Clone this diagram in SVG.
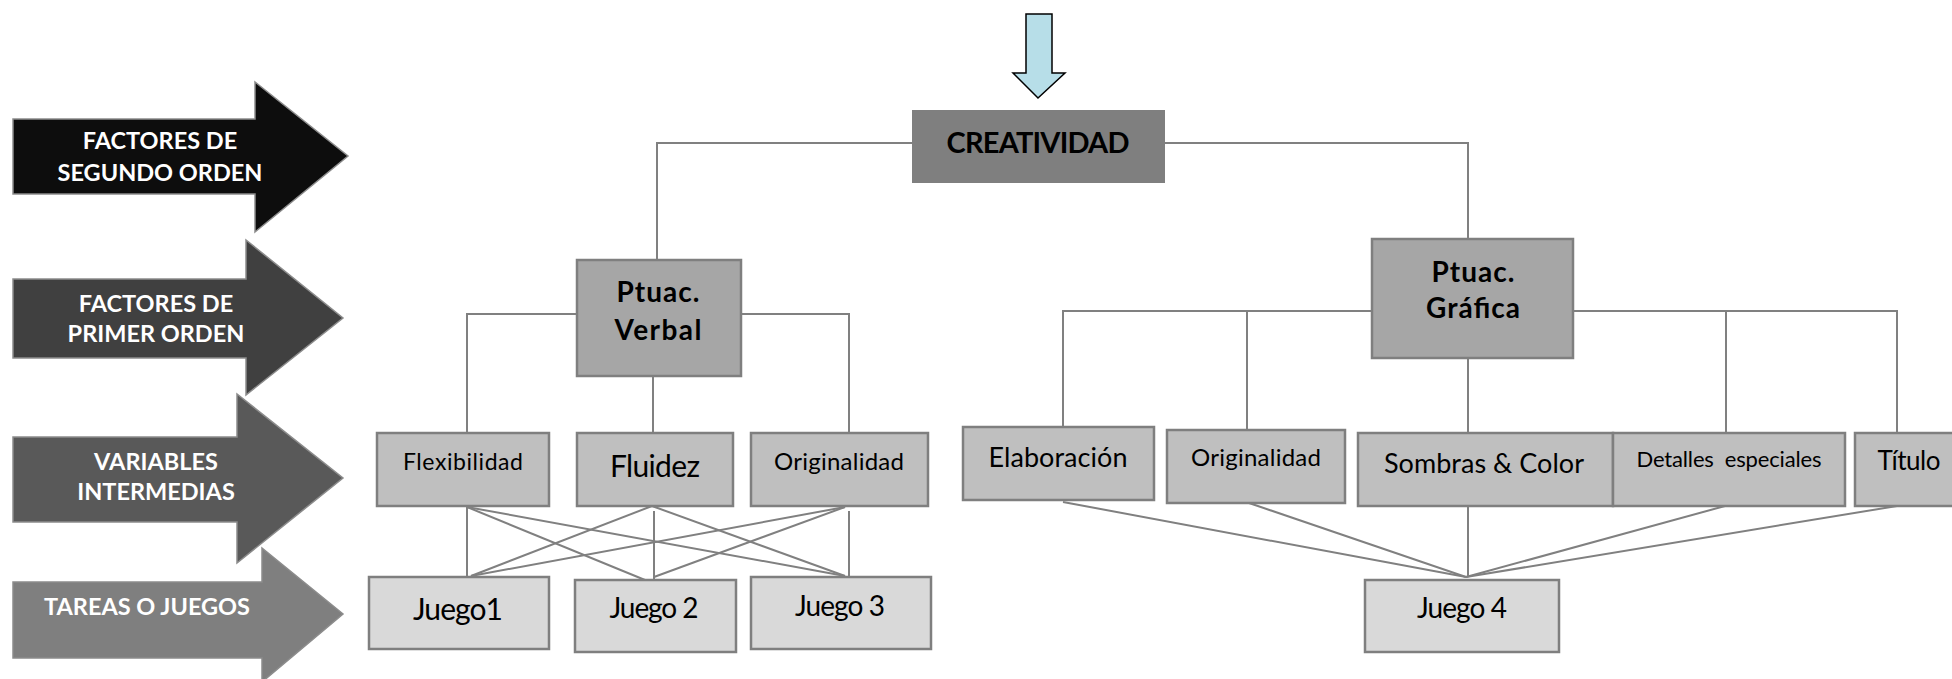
<svg xmlns="http://www.w3.org/2000/svg" width="1952" height="679" viewBox="0 0 1952 679">
<style>
.lbl{font-family:Lato,"Open Sans","Liberation Sans",sans-serif;font-weight:bold;fill:#ffffff;font-size:23.5px;text-anchor:middle}
.arr{stroke:#8c8c8c;stroke-width:1.5}
.box{stroke:#7f7f7f;stroke-width:2.5}
.lv1{fill:#a6a6a6}
.lv2{fill:#bfbfbf}
.lv3{fill:#d9d9d9}
.t{font-family:Lato,"Open Sans","Liberation Sans",sans-serif;fill:#000000;text-anchor:middle}
.b{font-weight:bold}
.con line,.con polyline{stroke:#808080;stroke-width:2;fill:none}
</style>
<rect width="1952" height="679" fill="#ffffff"/>

<g id="arrow-segundo">
<polygon class="arr" fill="#0d0d0d" points="13,119 255,119 255,82 348,156 255,232 255,194 13,194"/>
<text class="lbl" x="160" y="149">FACTORES DE</text>
<text class="lbl" x="160" y="181">SEGUNDO ORDEN</text>
</g>
<g id="arrow-primer">
<polygon class="arr" fill="#404040" points="13,279 246,279 246,240 343,318 246,395 246,358 13,358"/>
<text class="lbl" x="156" y="312">FACTORES DE</text>
<text class="lbl" x="156" y="342">PRIMER ORDEN</text>
</g>
<g id="arrow-variables">
<polygon class="arr" fill="#595959" points="13,437 237,437 237,394 343,478 237,563 237,522 13,522"/>
<text class="lbl" x="156" y="470">VARIABLES</text>
<text class="lbl" x="156" y="500">INTERMEDIAS</text>
</g>
<g id="arrow-tareas">
<polygon class="arr" fill="#7f7f7f" points="13,582 262,582 262,548 343,614 262,682 262,658 13,658"/>
<text class="lbl" x="147" y="615" font-size="25">TAREAS O JUEGOS</text>
</g>

<g id="arrow-top">
<polygon fill="#b7dee8" stroke="#000000" stroke-width="1.5" points="1026,14 1052,14 1052,73 1065,73 1038,98 1013,73 1026,73"/>
</g>

<g class="con" id="connectors">
<polyline points="912,143 657,143 657,260"/>
<polyline points="1165,143 1468,143 1468,239"/>
<polyline points="577,314 467,314 467,433"/>
<polyline points="741,314 849,314 849,433"/>
<line x1="653" y1="377" x2="653" y2="433"/>
<line x1="467" y1="507" x2="467" y2="576"/>
<line x1="467" y1="507" x2="645" y2="580"/>
<line x1="467" y1="507" x2="845" y2="576"/>
<line x1="652" y1="506" x2="471" y2="576"/>
<line x1="654" y1="511" x2="654" y2="579"/>
<line x1="652" y1="506" x2="845" y2="576"/>
<line x1="845" y1="507" x2="471" y2="576"/>
<line x1="845" y1="507" x2="654" y2="577"/>
<line x1="849" y1="511" x2="849" y2="576"/>
<polyline points="1372,311 1063,311 1063,427"/>
<line x1="1247" y1="311" x2="1247" y2="430"/>
<line x1="1468" y1="358" x2="1468" y2="433"/>
<polyline points="1573,311 1897,311 1897,433"/>
<line x1="1726" y1="311" x2="1726" y2="433"/>
<line x1="1063" y1="502" x2="1466" y2="577"/>
<line x1="1249" y1="503" x2="1466" y2="577"/>
<line x1="1468" y1="506" x2="1468" y2="577"/>
<line x1="1725" y1="506" x2="1466" y2="577"/>
<line x1="1897" y1="506" x2="1466" y2="577"/>
</g>

<g id="creatividad">
<rect x="912" y="110" width="253" height="73" fill="#7f7f7f"/>
<text class="t b" x="1038" y="153" font-size="29" textLength="183">CREATIVIDAD</text>
</g>
<g id="verbal">
<rect class="box lv1" x="577" y="260" width="164" height="116"/>
<text class="t b" x="658" y="302" font-size="28" textLength="83">Ptuac.</text>
<text class="t b" x="658" y="340" font-size="28" textLength="87">Verbal</text>
</g>
<g id="grafica">
<rect class="box lv1" x="1372" y="239" width="201" height="119"/>
<text class="t b" x="1473" y="282" font-size="28" textLength="83">Ptuac.</text>
<text class="t b" x="1473" y="318" font-size="28" textLength="94">Gráfica</text>
</g>

<g id="flexibilidad">
<rect class="box lv2" x="377" y="433" width="172" height="73"/>
<text class="t" x="463" y="470" font-size="23" textLength="120">Flexibilidad</text>
</g>
<g id="fluidez">
<rect class="box lv2" x="577" y="433" width="156" height="73"/>
<text class="t" x="655" y="477" font-size="30" textLength="90">Fluidez</text>
</g>
<g id="originalidad-v">
<rect class="box lv2" x="751" y="433" width="177" height="73"/>
<text class="t" x="839" y="470" font-size="24" textLength="130">Originalidad</text>
</g>

<g id="juego1">
<rect class="box lv3" x="369" y="577" width="180" height="72"/>
<text class="t" x="458" y="620" font-size="30" textLength="90">Juego1</text>
</g>
<g id="juego2">
<rect class="box lv3" x="575" y="580" width="161" height="72"/>
<text class="t" x="654" y="618" font-size="28" textLength="89">Juego 2</text>
</g>
<g id="juego3">
<rect class="box lv3" x="751" y="577" width="180" height="72"/>
<text class="t" x="840" y="616" font-size="28" textLength="90">Juego 3</text>
</g>

<g id="elaboracion">
<rect class="box lv2" x="963" y="427" width="191" height="73"/>
<text class="t" x="1058" y="467" font-size="27" textLength="139">Elaboración</text>
</g>
<g id="originalidad-g">
<rect class="box lv2" x="1167" y="430" width="178" height="73"/>
<text class="t" x="1256" y="466" font-size="24" textLength="130">Originalidad</text>
</g>
<g id="sombras">
<rect class="box lv2" x="1358" y="433" width="255" height="73"/>
<text class="t" x="1484" y="473" font-size="27" textLength="200">Sombras &amp; Color</text>
</g>
<g id="detalles">
<rect class="box lv2" x="1613" y="433" width="232" height="73"/>
<text class="t" x="1729" y="467" font-size="22" textLength="185" xml:space="preserve">Detalles  especiales</text>
</g>
<g id="titulo">
<rect class="box lv2" x="1855" y="433" width="110" height="73"/>
<text class="t" x="1909" y="470" font-size="26" textLength="63">Título</text>
</g>
<g id="juego4">
<rect class="box lv3" x="1365" y="580" width="194" height="72"/>
<text class="t" x="1462" y="618" font-size="28" textLength="90">Juego 4</text>
</g>
</svg>
